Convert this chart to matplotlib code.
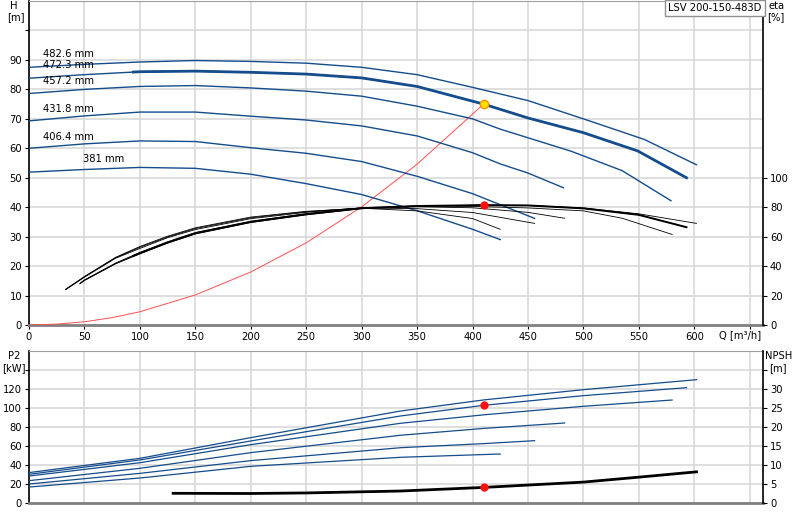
import numpy as np
import matplotlib
matplotlib.use('Agg')
from matplotlib import pyplot as plt

plt.rcParams['font.family'] = ['DejaVu Sans']
plt.rcParams['font.size'] = 7.2

########################################################################################################################
# Dados
diametros = ['482.6 mm', '472.3 mm', '457.2 mm', '431.8 mm', '406.4 mm', '381 mm']

# curvas H (m) x Q (m3/h)
q_h = [
    [0, 50, 100, 150, 200, 250, 300, 350, 400, 450, 500, 555, 602],
    [0, 50, 100, 150, 200, 250, 300, 350, 410, 450, 500, 549, 593],
    [0, 50, 100, 150, 200, 250, 300, 350, 400, 425, 489, 535, 579],
    [0, 50, 100, 150, 200, 250, 300, 350, 400, 425, 450, 482],
    [0, 50, 100, 150, 200, 250, 300, 350, 400, 456],
    [0, 50, 100, 150, 200, 250, 300, 350, 400, 425],
]
h_vals = [
    [87.5, 88.5, 89.3, 89.8, 89.5, 88.9, 87.5, 85.0, 80.7, 76.2, 70.0, 63.0, 54.4],
    [83.8, 85.0, 86.0, 86.2, 85.8, 85.2, 83.9, 81.0, 75.0, 70.3, 65.3, 59.1, 50.0],
    [78.6, 80.0, 81.0, 81.3, 80.5, 79.4, 77.7, 74.3, 70.0, 66.5, 59.0, 52.4, 42.2],
    [69.3, 71.0, 72.3, 72.3, 70.9, 69.6, 67.6, 64.2, 58.5, 54.7, 51.6, 46.6],
    [60.0, 61.5, 62.5, 62.3, 60.2, 58.3, 55.5, 50.5, 44.6, 36.2],
    [51.9, 52.8, 53.5, 53.2, 51.2, 48.0, 44.3, 38.8, 32.5, 29.0],
]
q_inicio_grosso = 94  # trecho grosso da curva selecionada

# curvas de rendimento eta (%)
q_eta = [
    [46, 50, 78, 100, 125, 150, 200, 250, 300, 350, 400, 450, 500, 550, 602],
    [46, 50, 78, 100, 125, 150, 200, 250, 300, 350, 410, 450, 500, 550, 593],
    [46, 50, 78, 100, 125, 150, 200, 250, 300, 350, 400, 450, 500, 535, 580],
    [33, 50, 78, 100, 125, 150, 200, 250, 300, 350, 400, 450, 483],
    [33, 50, 78, 100, 125, 150, 200, 250, 300, 350, 400, 456],
    [33, 50, 78, 100, 125, 150, 200, 250, 300, 350, 400, 425],
]
eta_vals = [
    [28.0, 30.2, 41.5, 48.3, 55.6, 61.8, 69.6, 74.8, 79.0, 80.6, 81.3, 81.2, 79.5, 75.5, 69.0],
    [28.2, 30.4, 41.7, 48.8, 56.0, 62.3, 70.0, 75.2, 79.3, 80.8, 81.4, 81.2, 79.2, 74.8, 66.4],
    [28.4, 30.6, 42.0, 49.3, 56.5, 62.8, 70.5, 75.6, 79.6, 80.8, 80.5, 79.5, 77.5, 72.5, 61.5],
    [24.0, 32.5, 45.3, 52.0, 59.3, 64.8, 72.2, 76.5, 79.5, 80.3, 79.6, 76.5, 72.5],
    [24.1, 32.7, 45.6, 52.8, 59.8, 65.5, 72.8, 76.9, 79.5, 79.0, 76.4, 69.0],
    [24.2, 32.9, 45.9, 53.3, 60.3, 66.0, 73.3, 77.2, 79.3, 77.5, 72.3, 65.0],
]

# curva do sistema
q_sist = [0, 25, 50, 75, 100, 150, 200, 250, 300, 350, 410]
h_sist = [0, 0.3, 1.1, 2.5, 4.5, 10.2, 18.0, 27.9, 40.1, 54.6, 75.0]

# potencia P2 (kW)
q_p2 = [
    [0, 100, 200, 335, 410, 500, 602],
    [0, 100, 200, 335, 410, 500, 593],
    [0, 100, 200, 335, 410, 500, 580],
    [0, 100, 200, 335, 410, 483],
    [0, 100, 200, 335, 410, 456],
    [0, 100, 200, 335, 410, 425],
]
p2_vals = [
    [32.0, 47.0, 68.8, 96.8, 108.5, 119.3, 129.8],
    [30.2, 45.3, 65.3, 91.6, 102.8, 113.0, 121.4],
    [28.4, 42.4, 61.4, 83.9, 92.8, 101.8, 108.4],
    [23.5, 36.5, 53.0, 71.3, 78.5, 84.2],
    [20.0, 31.2, 44.6, 58.2, 62.5, 65.6],
    [16.8, 26.3, 38.6, 48.1, 51.0, 51.6],
]

# NPSH (m)
q_npsh = [130, 200, 250, 335, 410, 500, 550, 602]
npsh_vals = [2.55, 2.5, 2.65, 3.15, 4.1, 5.5, 6.8, 8.2]

# ponto de operacao
q_op = 410
h_op = 75.0
eta_op = 81.4
p2_op = 102.8
npsh_op = 4.1

########################################################################################################################
azul = '#144c8c'
cinza_grade = '#d6d6d6'

fig = plt.figure(figsize=(8, 5.2), dpi=100)
ax1 = fig.add_axes([29/800, 1-325/520, 734/800, 325/520 - 0.002])
ax2 = fig.add_axes([29/800, 1-503/520, 734/800, 152/520])
ax1e = ax1.twinx()
ax2n = ax2.twinx()

for ax in (ax1, ax2):
    ax.set_xlim(0, 662)
    ax.set_xticks(np.arange(0, 651, 50))
    ax.grid(True, color=cinza_grade, lw=1.1)
    ax.set_axisbelow(True)
    ax.spines['bottom'].set_color('#808080')
    ax.spines['bottom'].set_linewidth(2)
    ax.spines['top'].set_color('#a0a0a0')
    ax.spines['left'].set_linewidth(1.2)
    ax.spines['right'].set_visible(False)
    ax.tick_params(length=3, width=0.8, pad=2, labelsize=7.2)

for ax in (ax1e, ax2n):
    for s in ('left', 'top', 'bottom'):
        ax.spines[s].set_visible(False)
    ax.spines['right'].set_linewidth(1.2)
    ax.tick_params(length=3, width=0.8, pad=2, labelsize=7.2)

# painel superior
ax1.set_ylim(0, 110)
ax1.set_yticks(np.arange(0, 101, 10))
ax1.set_yticklabels([str(v) for v in range(0, 91, 10)] + [''])
ax1.set_xticklabels([str(v) for v in range(0, 601, 50)] + [''])
ax1e.set_ylim(0, 220)
ax1e.set_yticks(np.arange(0, 101, 20))

ax1.plot(q_sist, h_sist, color='#ff5050', lw=0.7, zorder=3)

for i in range(len(diametros)):
    ax1.plot(q_h[i], h_vals[i], color=azul, lw=1.0, zorder=4)
    ax1e.plot(q_eta[i], eta_vals[i], color='black', lw=0.6, zorder=4)

# trecho grosso da curva selecionada (472.3 mm)
q_g = np.array(q_h[1])
h_g = np.array(h_vals[1])
m = q_g >= q_inicio_grosso
ax1.plot(np.r_[q_inicio_grosso, q_g[m]], np.r_[np.interp(q_inicio_grosso, q_g, h_g), h_g[m]],
         color=azul, lw=2.0, zorder=5)
q_e = np.array(q_eta[1])
e_e = np.array(eta_vals[1])
m = q_e >= q_inicio_grosso
ax1e.plot(np.r_[q_inicio_grosso, q_e[m]], np.r_[np.interp(q_inicio_grosso, q_e, e_e), e_e[m]],
          color='black', lw=1.4, zorder=5)

ax1.plot(q_op, h_op, 'o', ms=6, mfc='#ffe000', mec='#ff9000', mew=1, zorder=6)
ax1e.plot(q_op, eta_op, 'o', ms=5, color='#ff1010', zorder=6)

pos_rotulos = [(12.6, 91.9), (12.6, 88.2), (12.6, 82.8), (12.6, 73.3), (12.6, 63.9), (48.8, 56.4)]
for (x, y), t in zip(pos_rotulos, diametros):
    ax1.text(x, y, t, ha='left', va='center', fontsize=7.2, zorder=7)

# painel inferior
ax2.set_ylim(0, 160)
ax2.set_yticks(np.arange(0, 141, 20))
ax2.set_yticklabels([str(v) for v in range(0, 121, 20)] + [''])
ax2.tick_params(axis='x', bottom=False, labelbottom=False)
ax2n.set_ylim(0, 40)
ax2n.set_yticks(np.arange(0, 36, 5))
ax2n.set_yticklabels([str(v) for v in range(0, 31, 5)] + [''])

for i in range(len(diametros)):
    ax2.plot(q_p2[i], p2_vals[i], color=azul, lw=0.9, zorder=4)
ax2n.plot(q_npsh, npsh_vals, color='black', lw=2.0, zorder=4)
ax2.plot(q_op, p2_op, 'o', ms=5, color='#ff1010', zorder=6)
ax2n.plot(q_op, npsh_op, 'o', ms=5, color='#ff1010', zorder=6)

# textos dos eixos
fig.text(14/800, 1-6/520, 'H', ha='center', va='center', fontsize=7.2)
fig.text(16/800, 1-17/520, '[m]', ha='center', va='center', fontsize=7.2)
fig.text(777/800, 1-6/520, 'eta', ha='center', va='center', fontsize=7.2)
fig.text(776/800, 1-17/520, '[%]', ha='center', va='center', fontsize=7.2)
fig.text(740/800, 1-335/520, 'Q [m³/h]', ha='center', va='center', fontsize=7.2)
fig.text(14/800, 1-356/520, 'P2', ha='center', va='center', fontsize=7.2)
fig.text(14/800, 1-368/520, '[kW]', ha='center', va='center', fontsize=7.2)
fig.text(779/800, 1-356/520, 'NPSH', ha='center', va='center', fontsize=7.2)
fig.text(778/800, 1-368/520, '[m]', ha='center', va='center', fontsize=7.2)
fig.text(715/800, 1-8/520, 'LSV 200-150-483D', ha='center', va='center', fontsize=7.2,
         bbox=dict(boxstyle='square,pad=0.3', fc='white', ec='#909090', lw=1))

fig.savefig('out.png', dpi=100)
